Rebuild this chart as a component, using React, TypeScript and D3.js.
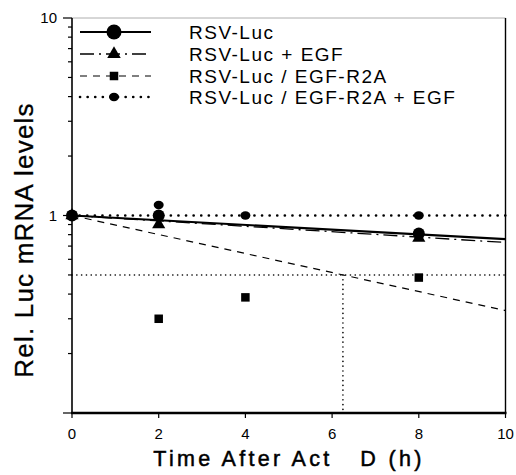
import React from "react";
import * as d3 from "d3";

// time points (h) and measured relative mRNA levels
const rsvTimes = [0, 2, 8];
const rsvLuc = [1.0, 1.0, 0.81];
const rsvEgfTimes = [0, 2, 8];
const rsvEgf = [1.0, 0.9, 0.77];
const r2aTimes = [0, 2, 4, 8];
const r2a = [1.0, 0.3, 0.385, 0.485];
const r2aEgfTimes = [0, 2, 4, 8];
const r2aEgf = [1.0, 1.13, 1.0, 1.0];

// fitted decay lines, value at t=0 and t=10
const fitTimes = [0, 10];
const rsvFit = [1.0, 0.76];
const rsvEgfFit = [1.0, 0.73];
const r2aFit = [1.0, 0.33];
const r2aEgfFit = [1.0, 1.0];

// half-life guide
const halfLevel = 0.5;
const halfTime = 6.25;

const xTicks = [0, 2, 4, 6, 8, 10];
const yMajor = [0.1, 1, 10];
const yLabels = ["", "1", "10"];
const yMinor = [0.2, 0.3, 0.4, 0.5, 0.6, 0.7, 0.8, 0.9, 2, 3, 4, 5, 6, 7, 8, 9];

const legendNames = [
  "RSV-Luc",
  "RSV-Luc + EGF",
  "RSV-Luc / EGF-R2A",
  "RSV-Luc / EGF-R2A + EGF",
];

const W = 516;
const H = 475;
const left = 72, right = 505.5, top = 18, bottom = 413;

const x = d3.scaleLinear().domain([0, 10]).range([left, right]);
const y = d3.scaleLog().domain([0.1, 10]).range([bottom, top]);

const line = d3
  .line<[number, number]>()
  .x((d) => x(d[0]))
  .y((d) => y(d[1]));

const pairs = (t: number[], v: number[]) => t.map((tt, i) => [tt, v[i]] as [number, number]);

const font = "'Liberation Sans', Arial, Helvetica, sans-serif";

const styles = [
  { dash: "none", width: 2.2, cap: "butt" },
  { dash: "14,5,2,5", width: 1.3, cap: "butt" },
  { dash: "7,6", width: 1.2, cap: "butt" },
  { dash: "0.1,7.5", width: 2.6, cap: "round" },
];

function Marker({ kind, cx, cy, big }: { kind: number; cx: number; cy: number; big?: boolean }) {
  if (kind === 0) {
    const r = big ? 7.5 : 6;
    return <circle cx={cx} cy={cy} r={r} fill="#000" />;
  }
  if (kind === 1) {
    const p = d3.symbol().type(d3.symbolTriangle).size(big ? 80 : 75)();
    return <path d={p || ""} transform={`translate(${cx},${cy})`} fill="#000" />;
  }
  if (kind === 2) {
    const s = 8.5;
    return <rect x={cx - s / 2} y={cy - s / 2} width={s} height={s} fill="#000" />;
  }
  return <ellipse cx={cx} cy={cy} rx={5} ry={4.2} fill="#000" />;
}

export default function App() {
  const series = [
    pairs(rsvTimes, rsvLuc),
    pairs(rsvEgfTimes, rsvEgf),
    pairs(r2aTimes, r2a),
    pairs(r2aEgfTimes, r2aEgf),
  ];
  const fits = [rsvFit, rsvEgfFit, r2aFit, r2aEgfFit].map((f) => pairs(fitTimes, f));
  const legendY = [32, 54, 76, 97];

  return (
    <svg width={W} height={H} style={{ display: "block", position: "absolute", left: 0, top: 0, background: "#fff" }}>
      {/* frame */}
      <line x1={left} x2={right} y1={top} y2={top} stroke="#999" strokeWidth={0.8} />
      <line x1={right} x2={right} y1={top} y2={bottom} stroke="#000" strokeWidth={1.4} />
      <line x1={left} x2={left} y1={top} y2={bottom} stroke="#000" strokeWidth={1.6} />
      <line x1={left - 1} x2={right + 1} y1={bottom} y2={bottom} stroke="#000" strokeWidth={2.6} />

      {/* y ticks */}
      {yMajor.map((v, i) => (
        <g key={"ym" + i}>
          <line x1={left - 9} x2={left} y1={y(v)} y2={y(v)} stroke="#000" strokeWidth={1.2} />
          <text x={left - 15} y={y(v) + 5} textAnchor="end" fontFamily={font} fontSize={15}>
            {yLabels[i]}
          </text>
        </g>
      ))}
      {yMinor.map((v) => (
        <line key={"yn" + v} x1={left - 4} x2={left} y1={y(v)} y2={y(v)} stroke="#000" strokeWidth={1.2} />
      ))}

      {/* x ticks */}
      {xTicks.map((t) => (
        <g key={"xt" + t}>
          <line x1={x(t)} x2={x(t)} y1={bottom} y2={bottom + 5} stroke="#000" strokeWidth={1.2} />
          <text x={x(t)} y={439} textAnchor="middle" fontFamily={font} fontSize={15}>
            {t}
          </text>
        </g>
      ))}

      {/* half-life guides */}
      <line x1={x(0)} x2={x(10)} y1={y(halfLevel)} y2={y(halfLevel)} stroke="#000" strokeWidth={1.6} strokeDasharray="0.1,4.7" strokeLinecap="round" />
      <line x1={x(halfTime)} x2={x(halfTime)} y1={y(halfLevel)} y2={bottom} stroke="#000" strokeWidth={1.6} strokeDasharray="0.1,4.7" strokeLinecap="round" />

      {/* fitted lines */}
      {fits.map((f, i) => (
        <path key={"fit" + i} d={line(f) || ""} fill="none" stroke="#000" strokeWidth={styles[i].width} strokeDasharray={styles[i].dash} strokeLinecap={styles[i].cap as any} />
      ))}

      {/* data points */}
      {series.map((s, i) =>
        s.map((d, j) => <Marker key={"pt" + i + "-" + j} kind={i} cx={x(d[0])} cy={y(d[1])} />)
      )}

      {/* legend */}
      {legendNames.map((name, i) => (
        <g key={"lg" + i}>
          <line x1={80} x2={151} y1={legendY[i]} y2={legendY[i]} stroke="#000" strokeWidth={styles[i].width} strokeDasharray={styles[i].dash} strokeLinecap={styles[i].cap as any} />
          <Marker kind={i} cx={114} cy={legendY[i]} big />
          <text x={189} y={legendY[i] + 7} fontFamily={font} fontSize={19} letterSpacing={1.5}>
            {name}
          </text>
        </g>
      ))}

      {/* axis titles */}
      <text x={289} y={466} textAnchor="middle" fontFamily={font} fontSize={21.5} letterSpacing={3.3} stroke="#000" strokeWidth={0.5} style={{ whiteSpace: "pre" }}>
        {"Time After Act   D (h)"}
      </text>
      <text transform={`translate(33,240) rotate(-90)`} textAnchor="middle" fontFamily={font} fontSize={26} letterSpacing={1.2} stroke="#000" strokeWidth={0.3}>
        Rel. Luc mRNA levels
      </text>
    </svg>
  );
}
